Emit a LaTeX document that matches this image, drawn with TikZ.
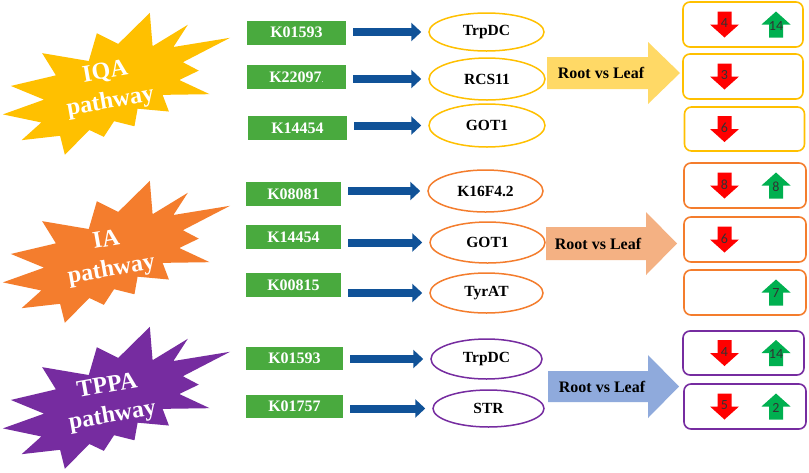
\documentclass[tikz,border=0pt]{standalone}
\usepackage{fontspec}
\setmainfont{Liberation Serif}
\newfontfamily\numfont{Carlito}
\usetikzlibrary{shapes.geometric,arrows.meta}
\definecolor{iqacol}{RGB}{255,192,0}
\definecolor{iacol}{RGB}{244,125,45}
\definecolor{tppacol}{RGB}{118,44,160}
\definecolor{iqaarr}{RGB}{255,217,102}
\definecolor{iaarr}{RGB}{244,177,131}
\definecolor{tppaarr}{RGB}{143,170,220}
\definecolor{kgreen}{RGB}{73,170,62}
\definecolor{linkblue}{RGB}{16,82,152}
\definecolor{redc}{RGB}{255,0,0}
\definecolor{greenc}{RGB}{0,176,80}
\definecolor{numc}{RGB}{50,50,50}
\begin{document}
\begin{tikzpicture}[x=1pt,y=-1pt,
  kbox/.style={fill=kgreen, text=white, font=\bfseries\fontsize{16}{16}\selectfont, minimum width=97pt, minimum height=24pt, inner sep=0pt},
  gene/.style={ellipse, draw=#1, line width=1.5pt, fill=white, font=\bfseries\fontsize{15.5}{15.5}\selectfont, inner sep=0pt},
  link/.style={draw=linkblue, line width=8pt, -{Triangle[length=10pt,width=18pt]}, shorten <=7pt, shorten >=7pt},
  result/.style={draw=#1, line width=1.6pt, rounded corners=7pt, minimum width=121pt, minimum height=45pt, inner sep=0pt},
  startext/.style={text=white, font=\bfseries\fontsize{24}{30}\selectfont, align=center, rotate=10},
  rltext/.style={font=\bfseries\fontsize{16}{16}\selectfont, inner sep=0pt},
  numtxt/.style={font=\numfont\fontsize{14}{14}\selectfont, text=numc, inner sep=0pt},
  pics/burst/.style={code={
    \fill[#1] (0.031,-0.299) -- (0.185,-0.5) -- (0.172,-0.233) -- (0.334,-0.353) -- (0.258,-0.198) -- (0.5,-0.192) -- (0.286,-0.065) -- (0.346,0.023) -- (0.258,0.070) -- (0.374,0.224) -- (0.178,0.164) -- (0.192,0.304) -- (0.064,0.238) -- (0.038,0.372) -- (-0.043,0.304) -- (-0.097,0.413) -- (-0.152,0.339) -- (-0.272,0.5) -- (-0.278,0.344) -- (-0.441,0.325) -- (-0.346,0.213) -- (-0.5,0.096) -- (-0.318,0.037) -- (-0.446,-0.117) -- (-0.251,-0.138) -- (-0.292,-0.332) -- (-0.104,-0.205) -- (-0.05,-0.413) -- cycle;}},
  pics/dn/.style={code={
    \fill[redc] (-7,-13) -- (7,-13) -- (7,0) -- (14.5,0) -- (0,13) -- (-14.5,0) -- (-7,0) -- cycle;
    \node[numtxt] (-n) at (0,-1) {#1};}},
  pics/up/.style={code={
    \fill[greenc] (-7,13) -- (7,13) -- (7,0) -- (14.5,0) -- (0,-13) -- (-14.5,0) -- (-7,0) -- cycle;
    \node[numtxt] (-n) at (0,1) {#1};}}
]
\useasboundingbox (0,0) rectangle (809,472);
\fill[white] (0,0) rectangle (809,472);

% starbursts
\pic[rotate=10, xscale=237, yscale=125] at (117.5,82) {burst=iqacol};
\pic[rotate=10, xscale=237, yscale=125] at (117.5,250) {burst=iacol};
\pic[rotate=10, xscale=237, yscale=125] at (117.5,396) {burst=tppacol};
\node[startext] (s1) at (108,88) {IQA\\pathway};
\node[startext] (s2) at (109,256) {IA\\pathway};
\node[startext] (s3) at (110,402) {TPPA\\pathway};

\coordinate (colR) at (724.5,0);
\coordinate (colG) at (776,0);

% IQA
\node[kbox, minimum width=99pt] (k1) at (296.5,32.5) {K01593};
\node[kbox, minimum width=99pt] (k2) at (296.5,77) {K22097{\fontsize{8}{8}\selectfont\mdseries .}};
\node[kbox, minimum width=99pt] (k3) at (297.5,128) {K14454};
\node[gene=iqacol, minimum width=115pt, minimum height=38pt] (g1) at (486.5,32) {TrpDC};
\node[gene=iqacol, minimum width=116pt, minimum height=42pt] (g2) at (487,79) {RCS11};
\node[gene=iqacol, minimum width=116pt, minimum height=43pt] (g3) at (487,125.5) {GOT1};
\draw[link] (k1.east |- g1.west) -- (g1.west);
\draw[link] (k2.east |- g2.west) -- (g2.west);
\draw[link] (k3.east |- g3.west) -- (g3.west);
\fill[iqaarr] (547,57) -- (648,57) -- (648,42) -- (680,73) -- (648,104) -- (648,89) -- (547,89) -- cycle;
\node[rltext] (rl1) at (601,73) {Root vs Leaf};
\node[result=iqacol, minimum width=120pt] (r1) at (743,24.5) {};
\node[result=iqacol, minimum width=120pt] (r2) at (743,76.5) {};
\node[result=iqacol, minimum width=120pt, minimum height=44pt] (r3) at (744.5,129) {};
\pic (a1) at (r1 -| colR) {dn=4};
\pic (b1) at (r1 -| colG) {up=14};
\pic (a2) at (r2 -| colR) {dn=3};
\pic (a3) at (r3 -| colR) {dn=6};

% IA
\node[kbox, minimum width=95pt] (k4) at (293.5,194) {K08081};
\node[kbox, minimum width=95pt] (k5) at (293.5,237) {K14454};
\node[kbox, minimum width=95pt] (k6) at (293.5,285) {K00815};
\node[gene=iacol, minimum width=115pt, minimum height=42pt] (g4) at (485.5,191) {K16F4.2};
\node[gene=iacol, minimum width=115pt, minimum height=41pt] (g5) at (487.5,242.5) {GOT1};
\node[gene=iacol, minimum width=113pt, minimum height=40pt] (g6) at (486.5,293) {TyrAT};
\draw[link] (k4.east |- g4.west) -- (g4.west);
\draw[link] (k5.east |- g5.west) -- (g5.west);
\draw[link] (k6.east |- g6.west) -- (g6.west);
\fill[iaarr] (546,227) -- (646,227) -- (646,212) -- (677,243.5) -- (646,275) -- (646,260) -- (546,260) -- cycle;
\node[rltext] (rl2) at (598,243.5) {Root vs Leaf};
\node[result=iacol, minimum width=122pt] (r4) at (745,185.5) {};
\node[result=iacol, minimum width=122pt] (r5) at (745,239.5) {};
\node[result=iacol, minimum width=122pt] (r6) at (745,292.5) {};
\pic (a4) at (r4 -| colR) {dn=8};
\pic (b4) at (r4 -| colG) {up=8};
\pic (a5) at (r5 -| colR) {dn=6};
\pic (b6) at (r6 -| colG) {up=7};

% TPPA
\node[kbox, minimum width=97pt, minimum height=23pt] (k7) at (294.5,358) {K01593};
\node[kbox, minimum width=97pt, minimum height=23pt] (k8) at (294.5,406.5) {K01757};
\node[gene=tppacol, minimum width=111pt, minimum height=40pt] (g7) at (486.5,359) {TrpDC};
\node[gene=tppacol, minimum width=111pt, minimum height=37pt] (g8) at (488.5,408.5) {STR};
\draw[link] (k7.east |- g7.west) -- (g7.west);
\draw[link] (k8.east |- g8.west) -- (g8.west);
\fill[tppaarr] (548,371) -- (648,371) -- (648,355) -- (679,386.5) -- (648,418) -- (648,402) -- (548,402) -- cycle;
\node[rltext] (rl3) at (602,386.5) {Root vs Leaf};
\node[result=tppacol, minimum height=44pt] (r7) at (743.5,353) {};
\node[result=tppacol, minimum width=122pt] (r8) at (745,406.5) {};
\pic (a7) at (r7 -| colR) {dn=4};
\pic (b7) at (r7 -| colG) {up=14};
\pic (a8) at (r8 -| colR) {dn=5};
\pic (b8) at (r8 -| colG) {up=2};
\end{tikzpicture}
\end{document}
